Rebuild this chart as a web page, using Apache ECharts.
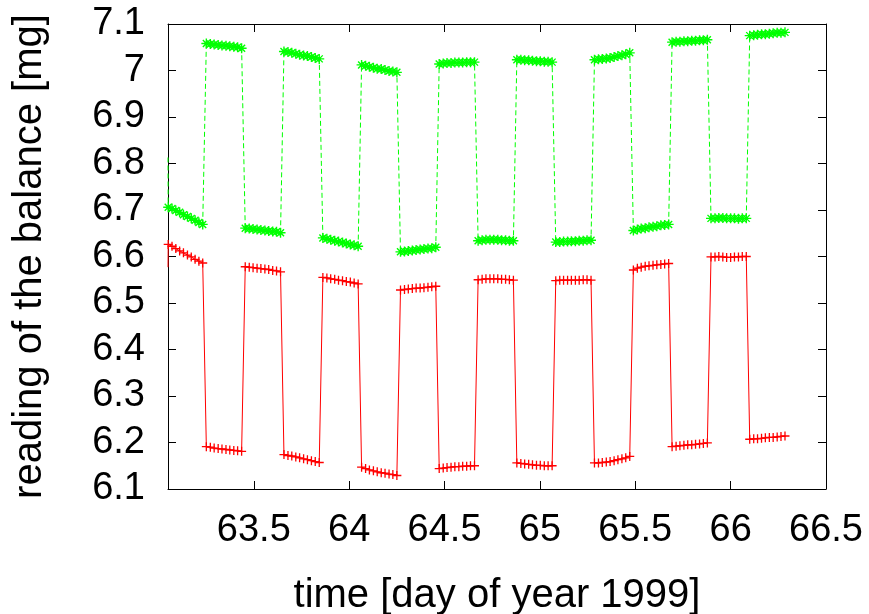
<!DOCTYPE html>
<html>
<head>
<meta charset="utf-8">
<script src="https://cdn.jsdelivr.net/npm/echarts@6/dist/echarts.min.js"></script>
<style>
html,body{margin:0;padding:0;background:#fff;}
#chart{width:869px;height:614px;}
</style>
</head>
<body>
<div id="chart"></div>
<script>
// time [day of year 1999] (first entry is the clipped start point)
const time = [
  63.050,
  63.051, 63.071, 63.091, 63.111, 63.131, 63.152, 63.172, 63.192, 63.212, 63.232,
  63.251, 63.272, 63.292, 63.313, 63.333, 63.354, 63.374, 63.395, 63.415, 63.436,
  63.455, 63.476, 63.496, 63.517, 63.537, 63.558, 63.578, 63.599, 63.619, 63.640,
  63.658, 63.679, 63.699, 63.720, 63.740, 63.761, 63.781, 63.802, 63.822, 63.843,
  63.862, 63.883, 63.903, 63.924, 63.944, 63.965, 63.985, 64.006, 64.026, 64.047,
  64.065, 64.086, 64.106, 64.127, 64.147, 64.168, 64.188, 64.209, 64.229, 64.250,
  64.269, 64.290, 64.310, 64.331, 64.351, 64.372, 64.392, 64.413, 64.433, 64.454,
  64.472, 64.493, 64.513, 64.534, 64.554, 64.575, 64.595, 64.616, 64.636, 64.657,
  64.676, 64.697, 64.717, 64.738, 64.758, 64.779, 64.799, 64.820, 64.840, 64.861,
  64.879, 64.900, 64.920, 64.941, 64.961, 64.982, 65.002, 65.023, 65.043, 65.064,
  65.083, 65.104, 65.124, 65.145, 65.165, 65.186, 65.206, 65.227, 65.247, 65.268,
  65.286, 65.307, 65.327, 65.348, 65.368, 65.389, 65.409, 65.430, 65.450, 65.471,
  65.490, 65.511, 65.531, 65.552, 65.572, 65.593, 65.613, 65.634, 65.654, 65.675,
  65.693, 65.714, 65.734, 65.755, 65.775, 65.796, 65.816, 65.837, 65.857, 65.878,
  65.897, 65.918, 65.938, 65.959, 65.979, 66.000, 66.020, 66.041, 66.061, 66.082,
  66.100, 66.121, 66.141, 66.162, 66.182, 66.203, 66.223, 66.244, 66.264, 66.285
];

// reading of the balance [mg], red (+) series
const redReading = [
  6.577,
  6.626, 6.622, 6.617, 6.612, 6.608, 6.603, 6.599, 6.594, 6.590, 6.586,
  6.191, 6.190, 6.188, 6.187, 6.186, 6.185, 6.184, 6.183, 6.182, 6.181,
  6.578, 6.577, 6.576, 6.575, 6.574, 6.573, 6.572, 6.570, 6.569, 6.567,
  6.174, 6.172, 6.171, 6.169, 6.167, 6.165, 6.163, 6.161, 6.159, 6.157,
  6.555, 6.554, 6.552, 6.551, 6.549, 6.548, 6.546, 6.545, 6.543, 6.541,
  6.147, 6.144, 6.141, 6.139, 6.137, 6.135, 6.134, 6.132, 6.131, 6.129,
  6.528, 6.529, 6.530, 6.531, 6.532, 6.532, 6.533, 6.534, 6.535, 6.536,
  6.144, 6.145, 6.146, 6.147, 6.148, 6.148, 6.149, 6.149, 6.150, 6.150,
  6.550, 6.551, 6.552, 6.552, 6.552, 6.552, 6.551, 6.551, 6.550, 6.549,
  6.156, 6.155, 6.154, 6.153, 6.152, 6.151, 6.151, 6.150, 6.150, 6.150,
  6.548, 6.549, 6.549, 6.549, 6.549, 6.549, 6.549, 6.550, 6.550, 6.549,
  6.156, 6.156, 6.157, 6.158, 6.159, 6.161, 6.163, 6.165, 6.167, 6.170,
  6.571, 6.575, 6.577, 6.579, 6.580, 6.581, 6.582, 6.583, 6.584, 6.585,
  6.191, 6.192, 6.193, 6.194, 6.195, 6.195, 6.196, 6.197, 6.198, 6.199,
  6.599, 6.599, 6.600, 6.599, 6.598, 6.598, 6.599, 6.599, 6.600, 6.600,
  6.207, 6.208, 6.208, 6.209, 6.210, 6.211, 6.211, 6.212, 6.213, 6.214
];

// reading of the balance [mg], green (*) series
const greenReading = [
  6.813,
  6.706, 6.703, 6.699, 6.695, 6.690, 6.686, 6.682, 6.678, 6.673, 6.669,
  7.058, 7.057, 7.056, 7.055, 7.054, 7.053, 7.052, 7.051, 7.050, 7.048,
  6.661, 6.660, 6.659, 6.658, 6.657, 6.656, 6.655, 6.654, 6.653, 6.651,
  7.041, 7.040, 7.038, 7.036, 7.034, 7.032, 7.031, 7.029, 7.027, 7.025,
  6.640, 6.638, 6.636, 6.634, 6.632, 6.630, 6.628, 6.626, 6.624, 6.622,
  7.012, 7.010, 7.008, 7.006, 7.004, 7.003, 7.001, 6.999, 6.998, 6.996,
  6.610, 6.611, 6.612, 6.613, 6.614, 6.615, 6.616, 6.617, 6.618, 6.620,
  7.014, 7.015, 7.016, 7.016, 7.017, 7.017, 7.017, 7.018, 7.018, 7.018,
  6.634, 6.635, 6.636, 6.636, 6.636, 6.636, 6.635, 6.635, 6.634, 6.634,
  7.023, 7.023, 7.022, 7.022, 7.021, 7.020, 7.020, 7.019, 7.019, 7.018,
  6.631, 6.631, 6.632, 6.632, 6.633, 6.633, 6.634, 6.634, 6.635, 6.635,
  7.023, 7.024, 7.025, 7.026, 7.027, 7.029, 7.031, 7.033, 7.035, 7.038,
  6.656, 6.658, 6.660, 6.661, 6.663, 6.664, 6.665, 6.667, 6.668, 6.669,
  7.061, 7.062, 7.062, 7.063, 7.063, 7.064, 7.064, 7.065, 7.065, 7.066,
  6.682, 6.682, 6.683, 6.683, 6.682, 6.682, 6.682, 6.681, 6.682, 6.682,
  7.075, 7.076, 7.077, 7.078, 7.078, 7.079, 7.080, 7.081, 7.081, 7.082
];

const xRange = [63.05, 66.5];
const yRange = [6.1, 7.1];
const yStep = 0.1;
const xTitle = 'time [day of year 1999]';
const yTitle = 'reading of the balance [mg]';

const FONT = 'Liberation Sans';
const PLUS = 'path://M0,5L10,5M5,0L5,10';
const STAR = 'path://M0,5L10,5M5,0L5,10M1.5,1.5L8.5,8.5M1.5,8.5L8.5,1.5';

function build(values) {
  return time.map((t, i) => i === 0 ? { value: [t, values[i]], symbol: 'none' } : [t, values[i]]);
}

const axisLineStyle = { color: '#000', width: 1 };
const tick = { show: true, inside: true, length: 8, lineStyle: { color: '#000', width: 1 } };

const chart = echarts.init(document.getElementById('chart'), null, { renderer: 'canvas' });
chart.setOption({
  animation: false,
  backgroundColor: '#fff',
  grid: { left: 168, right: 43, top: 24, bottom: 125, containLabel: false, outerBoundsMode: 'none' },
  xAxis: [
    {
      type: 'value', position: 'bottom', min: xRange[0], max: xRange[1],
      name: xTitle, nameLocation: 'middle', nameGap: 87,
      nameTextStyle: { fontFamily: FONT, fontSize: 40, color: '#000' },
      axisLine: { show: true, lineStyle: axisLineStyle },
      axisTick: tick,
      splitLine: { show: false },
      axisLabel: { showMinLabel: false, showMaxLabel: true, margin: 23, fontFamily: FONT, fontSize: 38, color: '#000', hideOverlap: false }
    },
    {
      type: 'value', position: 'top', min: xRange[0], max: xRange[1],
      axisLine: { show: true, lineStyle: axisLineStyle },
      axisTick: tick,
      splitLine: { show: false },
      axisLabel: { show: false }
    }
  ],
  yAxis: [
    {
      type: 'value', position: 'left', min: yRange[0], max: yRange[1], interval: yStep,
      name: yTitle, nameLocation: 'middle', nameGap: 118, nameRotate: 90,
      nameTextStyle: { fontFamily: FONT, fontSize: 40, color: '#000' },
      axisLine: { show: true, lineStyle: axisLineStyle },
      axisTick: tick,
      splitLine: { show: false },
      axisLabel: { margin: 23, fontFamily: FONT, fontSize: 38, color: '#000',
        formatter: v => String(Math.round(v * 10) / 10) }
    },
    {
      type: 'value', position: 'right', min: yRange[0], max: yRange[1], interval: yStep,
      axisLine: { show: true, lineStyle: axisLineStyle },
      axisTick: tick,
      splitLine: { show: false },
      axisLabel: { show: false }
    }
  ],
  series: [
    {
      type: 'line', name: 'red', xAxisIndex: 0, yAxisIndex: 0,
      data: build(redReading),
      showSymbol: true, symbol: PLUS, symbolSize: 9,
      itemStyle: { color: '#ff0000', borderColor: '#ff0000', borderWidth: 1.3 },
      lineStyle: { color: '#ff0000', width: 1 },
      clip: true, z: 2
    },
    {
      type: 'line', name: 'green', xAxisIndex: 0, yAxisIndex: 0,
      data: build(greenReading),
      showSymbol: true, symbol: STAR, symbolSize: 10,
      itemStyle: { color: '#00ff00', borderColor: '#00ff00', borderWidth: 1.4 },
      lineStyle: { color: '#00ff00', width: 1, type: [5, 3] },
      clip: true, z: 3
    }
  ]
});
</script>
</body>
</html>
